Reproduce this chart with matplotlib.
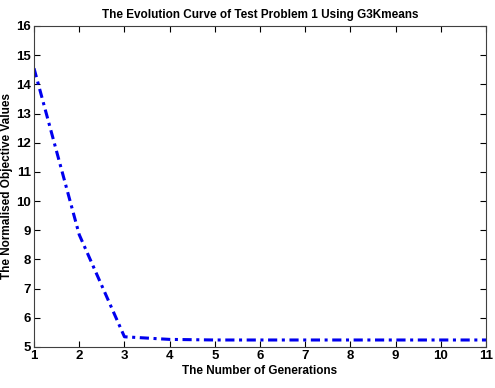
import matplotlib
matplotlib.use("Agg")
import matplotlib.pyplot as plt

generations = [1, 2, 3, 4, 5, 6, 7, 8, 9, 10, 11]
values = [14.55, 8.85, 5.35, 5.26, 5.24, 5.24, 5.24, 5.24, 5.24, 5.24, 5.24]
xticks = list(range(1, 12))
yticks = list(range(5, 17))

plt.rcParams['font.family'] = ['Liberation Sans', 'DejaVu Sans']
plt.rcParams['font.weight'] = 'bold'

fig = plt.figure(figsize=(4.95, 3.88), dpi=100)
ax = fig.add_axes([0.0687, 0.1057, 0.9133, 0.8273])
ax.plot(generations, values, color='#0000ee', linestyle=(0, (3, 1.5, 1, 1.5)), linewidth=2.2)
ax.set_xlim(1, 11)
ax.set_ylim(5, 16)
ax.set_xticks(xticks)
ax.set_yticks(yticks)
ax.tick_params(direction='in', top=True, right=True, labelsize=9.5, length=4, width=0.8, pad=2)
for lab in ax.get_xticklabels() + ax.get_yticklabels():
    lab.set_fontweight('bold')
for s in ax.spines.values():
    s.set_linewidth(0.8)
    s.set_color('#404040')
ax.set_title('The Evolution Curve of Test Problem 1 Using G3Kmeans', fontsize=8.5, fontweight='bold', pad=6)
ax.set_xlabel('The Number of Generations', fontsize=8.5, fontweight='bold', labelpad=2)
ax.set_ylabel('The Normalised Objective Values', fontsize=8.5, fontweight='bold')
ax.yaxis.set_label_coords(-0.046, 0.5)
fig.savefig('out.png', dpi=100)
